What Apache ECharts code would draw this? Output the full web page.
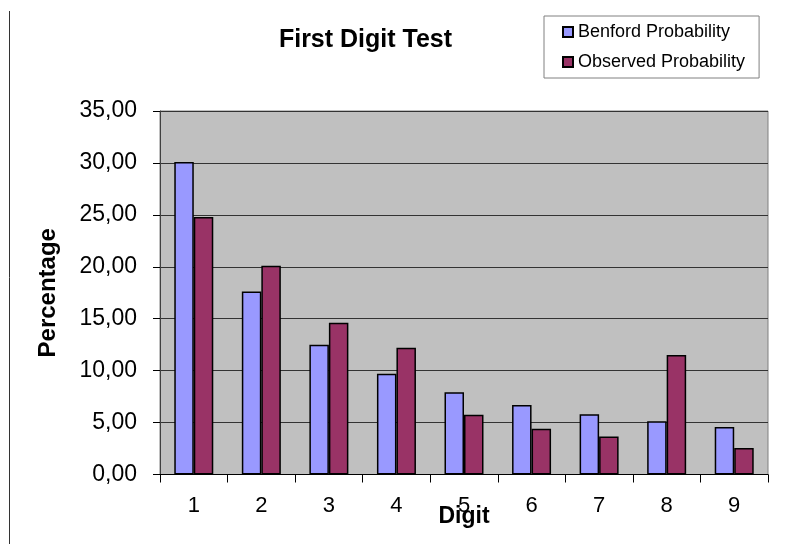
<!DOCTYPE html>
<html>
<head>
<meta charset="utf-8">
<script src="https://cdn.jsdelivr.net/npm/echarts@6/dist/echarts.min.js"></script>
<style>
  html, body { margin: 0; padding: 0; background: #ffffff; }
  #chart { width: 790px; height: 544px; }
</style>
</head>
<body>
<div id="chart"></div>
<script>
// First-digit distribution: expected (Benford) vs observed, in percent
const digits = ['1', '2', '3', '4', '5', '6', '7', '8', '9'];
const benfordProbability = [30.10, 17.61, 12.49, 9.69, 7.92, 6.69, 5.80, 5.12, 4.58];
const observedProbability = [24.80, 20.10, 14.60, 12.20, 5.75, 4.40, 3.65, 11.50, 2.55];
const seriesNames = ['Benford Probability', 'Observed Probability'];
const chartTitle = 'First Digit Test';
const xAxisTitle = 'Digit';
const yAxisTitle = 'Percentage';

const FONT = '"Liberation Sans", Arial, Helvetica, sans-serif';

const chart = echarts.init(document.getElementById('chart'), null, { renderer: 'canvas' });

chart.setOption({
  animation: false,
  backgroundColor: '#ffffff',
  textStyle: { fontFamily: FONT },
  grid: {
    left: 160,
    right: 22,
    top: 111,
    bottom: 69.5,
    containLabel: false,
    outerBoundsMode: 'none',
    show: true,
    backgroundColor: '#c0c0c0',
    borderColor: '#808080',
    borderWidth: 1
  },
  legend: {
    orient: 'vertical',
    left: 544,
    top: 16,
    padding: [7, 14, 7, 18],
    itemGap: 12,
    itemWidth: 10,
    itemHeight: 10,
    icon: 'rect',
    backgroundColor: '#ffffff',
    borderColor: '#808080',
    borderWidth: 1,
    borderRadius: 0,
    textStyle: { fontFamily: FONT, fontSize: 18, color: '#000000' },
    data: seriesNames
  },
  xAxis: {
    type: 'category',
    data: digits,
    boundaryGap: true,
    name: xAxisTitle,
    nameLocation: 'middle',
    nameGap: 31,
    nameMoveOverlap: false,
    nameTextStyle: { fontFamily: FONT, fontSize: 23, fontWeight: 'bold', color: '#000000' },
    axisLine: { show: true, lineStyle: { color: '#000000', width: 1 } },
    axisTick: { show: true, alignWithLabel: false, length: 8, lineStyle: { color: '#000000' } },
    axisLabel: { fontFamily: FONT, fontSize: 22, color: '#000000', margin: 20 },
    splitLine: { show: false }
  },
  yAxis: {
    type: 'value',
    min: 0,
    max: 35,
    interval: 5,
    name: yAxisTitle,
    nameLocation: 'middle',
    nameGap: 100,
    nameTextStyle: { fontFamily: FONT, fontSize: 24, fontWeight: 'bold', color: '#000000' },
    axisLine: { show: true, lineStyle: { color: '#404040', width: 1 } },
    axisTick: { show: true, length: 7, lineStyle: { color: '#000000' } },
    axisLabel: {
      fontFamily: FONT,
      fontSize: 23,
      color: '#000000',
      margin: 23,
      formatter: v => v.toFixed(2).replace('.', ',')
    },
    splitLine: { show: true, lineStyle: { color: '#333333', width: 1 } }
  },
  series: [
    {
      name: seriesNames[0],
      type: 'bar',
      data: benfordProbability,
      barWidth: 19.5,
      barGap: '0%',
      itemStyle: { color: '#9999ff', borderColor: '#000000', borderWidth: 1.5 }
    },
    {
      name: seriesNames[1],
      type: 'bar',
      data: observedProbability,
      barWidth: 19.5,
      barGap: '0%',
      itemStyle: { color: '#993366', borderColor: '#000000', borderWidth: 1.5 }
    }
  ],
  graphic: [
    {
      type: 'text',
      x: 365.5,
      y: 40,
      style: {
        text: chartTitle,
        fill: '#000000',
        font: 'bold 25px ' + FONT,
        textAlign: 'center',
        textVerticalAlign: 'middle'
      }
    },
    {
      type: 'line',
      shape: { x1: 9.5, y1: 11, x2: 9.5, y2: 544 },
      style: { stroke: '#333333', lineWidth: 1 }
    }
  ]
});
</script>
</body>
</html>
